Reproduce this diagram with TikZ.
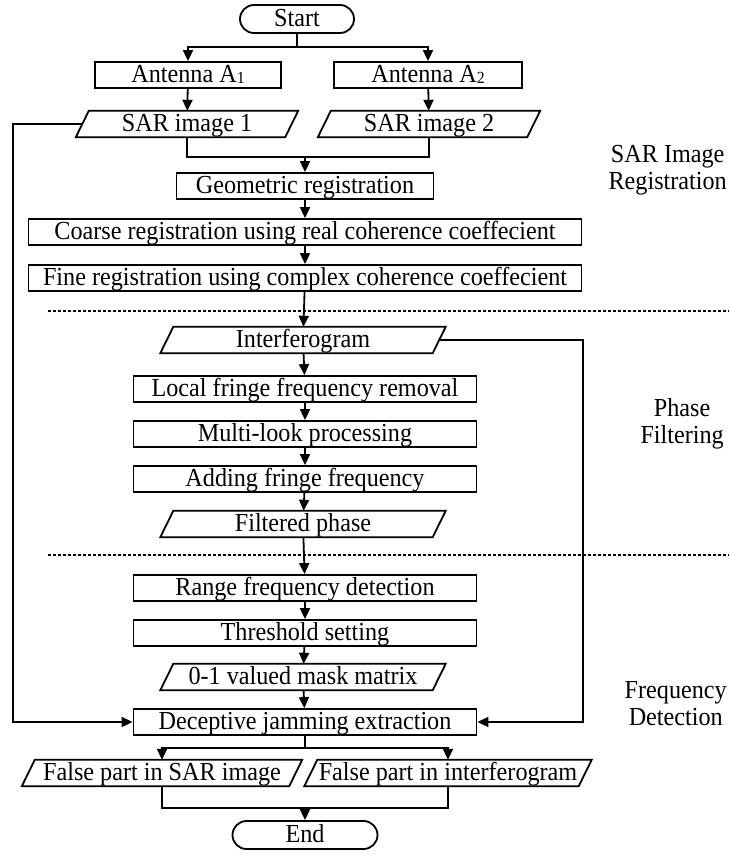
\documentclass[tikz,border=0pt]{standalone}
\usepackage{fontspec}
\setmainfont{Liberation Serif}[FakeStretch=0.93]
\usetikzlibrary{shapes.misc,arrows.meta,calc}
\tikzset{
  every node/.style={font=\fontsize{26}{28}\selectfont, inner sep=0pt},
  txt/.style={text height=19pt, text depth=5pt},
  box/.style={draw, line width=1.8pt, rectangle, minimum height=26pt, txt},
  stad/.style={draw, line width=1.8pt, rounded rectangle, minimum height=28pt, txt},
  para/.style={rectangle, minimum height=26pt, txt},
  lab/.style={align=center, font=\fontsize{26}{27}\selectfont},
  conn/.style={line width=1.8pt},
  arr/.style={line width=1.8pt, -{Triangle[length=11pt,width=10pt]}},
  sep/.style={line width=1.4pt, dash pattern=on 3pt off 2pt},
}
\newcommand{\subA}[1]{\raisebox{-1pt}{\fontsize{17}{17}\selectfont #1}}
\begin{document}
\begin{tikzpicture}[x=1pt,y=-1pt]
\useasboundingbox (0,0) rectangle (729,868);
% nodes
\node[stad, minimum width=114pt] (start) at (297,19) {Start};
\node[box, minimum width=186pt] (a1) at (188,75) {Antenna A\subA{1}};
\node[box, minimum width=188pt] (a2) at (428,75) {Antenna A\subA{2}};
\node[para, minimum width=222pt] (s1) at (187,124) {SAR image 1};
\node[para, minimum width=222pt] (s2) at (429,124) {SAR image 2};
\node[box, minimum width=257pt] (geo) at (305,186) {Geometric registration};
\node[box, minimum width=553pt] (coarse) at (305,232) {Coarse registration using real coherence coeffecient};
\node[box, minimum width=553pt] (fine) at (305,278) {Fine registration using complex coherence coeffecient};
\node[para, minimum width=285pt] (intf) at (303,340) {Interferogram};
\node[box, minimum width=343pt] (local) at (305,389) {Local fringe frequency removal};
\node[box, minimum width=343pt] (multi) at (305,434) {Multi-look processing};
\node[box, minimum width=343pt] (add) at (305,479) {Adding fringe frequency};
\node[para, minimum width=285pt] (filt) at (303,524) {Filtered phase};
\node[box, minimum width=343pt] (range) at (305,588) {Range frequency detection};
\node[box, minimum width=343pt] (thr) at (305,633) {Threshold setting};
\node[para, minimum width=285pt] (mask) at (303,677) {0-1 valued mask matrix};
\node[box, minimum width=343pt] (dec) at (305,722) {Deceptive jamming extraction};
\node[para, minimum width=280pt] (f1) at (162,773) {False part in SAR image};
\node[para, minimum width=287pt] (f2) at (448,773) {False part in interferogram};
\node[stad, minimum width=145pt] (end) at (305,835) {End};
% labels
\node[lab, anchor=east] (l1) at (727,170) {SAR Image\\Registration};
\node[lab, anchor=east] (l2) at (724,424) {Phase\\Filtering};
\node[lab, anchor=east] (l3) at (727,704) {Frequency\\Detection};
% parallelogram outlines
\foreach \n in {s1,s2,intf,filt,mask,f1,f2}{
  \draw[line width=1.8pt, line join=miter] ($(\n.north west)+(13,0)$) -- (\n.north east) -- ($(\n.south east)-(13,0)$) -- (\n.south west) -- cycle;
}
% separators
\coordinate (d1a) at (48,311); \coordinate (d1b) at (729,311);
\coordinate (d2a) at (48,555); \coordinate (d2b) at (729,555);
\draw[sep] (d1a) -- (d1b);
\draw[sep] (d2a) -- (d2b);
% connectors
\coordinate (b1) at ($(start.south)+(0,13)$);
\draw[conn] (start.south) -- (b1);
\draw[arr] (b1) -| (a1.north);
\draw[arr] (b1) -| (a2.north);
\draw[arr] (a1) -- (s1);
\draw[arr] (a2) -- (s2);
\coordinate (m1) at ($(s2.south)+(0,20)$);
\draw[conn] (s1.south) |- (m1) -- (s2.south);
\draw[arr] (m1 -| geo.north) -- (geo.north);
\draw[arr] (geo) -- (coarse);
\draw[arr] (coarse) -- (fine);
\draw[arr] (fine) -- (intf);
\draw[arr] (intf) -- (local);
\draw[arr] (local) -- (multi);
\draw[arr] (multi) -- (add);
\draw[arr] (add) -- (filt);
\draw[arr] (filt) -- (range);
\draw[arr] (range) -- (thr);
\draw[arr] (thr) -- (mask);
\draw[arr] (mask) -- (dec);
\coordinate (lf) at (13,0);
\coordinate (rf) at (583,0);
\coordinate (s1w) at ($(s1.west)+(6.5,0)$);
\coordinate (intfe) at ($(intf.east)-(6.5,0)$);
\draw[arr] (s1w) -- (lf |- s1) |- (dec.west);
\draw[arr] (intfe) -- (rf |- intf) |- (dec.east);
\coordinate (b2) at ($(dec.south)+(0,12)$);
\draw[conn] (dec.south) -- (b2);
\draw[arr] (b2) -| (f1.north);
\draw[arr] (b2) -| (f2.north);
\coordinate (m2) at ($(f2.south)+(0,22)$);
\draw[conn] (f1.south) |- (m2) -- (f2.south);
\draw[arr] (m2 -| end.north) -- (end.north);
\end{tikzpicture}
\end{document}
